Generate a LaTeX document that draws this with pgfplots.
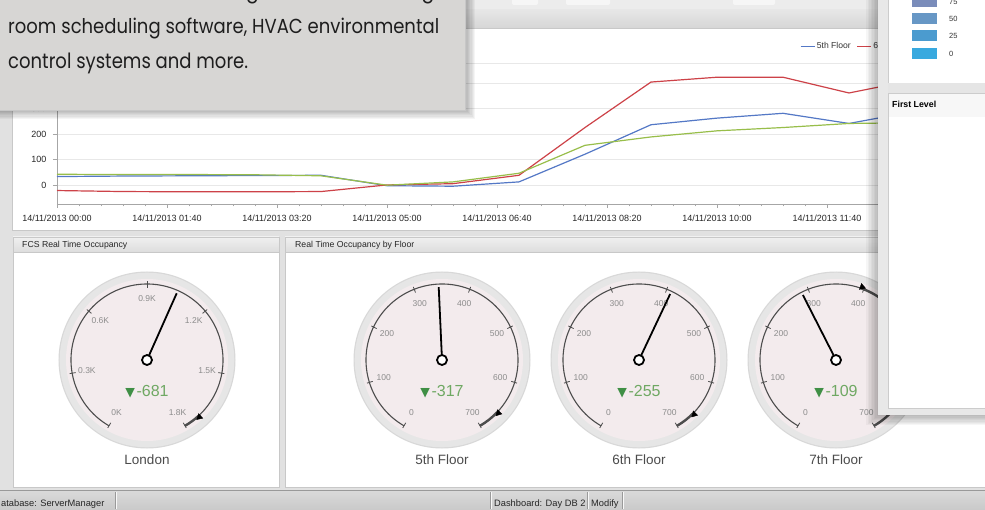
\documentclass[border=0pt]{standalone}
\usepackage{pgfplots}
\usepackage{pgfplotstable}
\pgfplotsset{compat=1.18}
\usepgfplotslibrary{polar}
\usepackage{fontspec}
\setmainfont{Liberation Sans}
\newfontfamily\promofont{Poppins}
\newfontfamily\symfont{DejaVu Sans}

\definecolor{winbg}{HTML}{E1E1E1}
\definecolor{toolbar}{HTML}{ECECEC}
\definecolor{band}{HTML}{D6D6D6}
\definecolor{panelline}{HTML}{C8C8C8}
\definecolor{hdrtop}{HTML}{F0F0F0}
\definecolor{hdrbot}{HTML}{DDDDDD}
\definecolor{ser5}{RGB}{84,120,198}
\definecolor{ser6}{RGB}{205,66,72}
\definecolor{ser7}{RGB}{152,190,74}
\definecolor{gface}{HTML}{F3EBED}
\definecolor{gring}{HTML}{E6E6E6}
\definecolor{gringedge}{HTML}{D8D8D8}
\definecolor{garc}{HTML}{4D4D4D}
\definecolor{glabel}{HTML}{8C8C8C}
\definecolor{deltatext}{HTML}{6FA863}
\definecolor{deltatri}{HTML}{3F8F45}
\definecolor{gname}{HTML}{4B4B4B}
\definecolor{promobg}{HTML}{D7D6D4}
\definecolor{promotext}{HTML}{1E1E1E}
\definecolor{sw75}{HTML}{7A8CBA}
\definecolor{sw50}{HTML}{6797C5}
\definecolor{sw25}{HTML}{4B9BCF}
\definecolor{sw0}{HTML}{38A9DF}
\definecolor{sbtop}{HTML}{DADADA}
\definecolor{sbbot}{HTML}{C9C9C9}
\definecolor{wingray}{HTML}{E8E8E8}

% hourly occupancy per floor (t in minutes after 00:00)
\pgfplotstableread{
t    f5   f6   f7
0    33  -22   42
60   35  -26   41
120  36  -27   41
180  37  -27   40
240  38  -26   36
300  -3    0   -1
360  -5    5   12
420  12   38   46
480  121 226  156
540  237 405  189
600  263 424  213
660  282 424  226
720  242 362  242
780  290 414  245
}\occupancy

\newcommand{\glab}[2]{%
  \draw[garc,line width=0.8pt] (axis cs:0,0) ++(#1:72.5pt) -- ++(#1:6pt);
  \path (axis cs:0,0) ++(#1:61pt) node[font=\fontsize{8.5}{9}\selectfont, text=glabel, inner sep=0pt]{#2};}
\newcommand{\floorlabels}{\glab{240}{0}\glab{197.14}{100}\glab{154.29}{200}\glab{111.43}{300}\glab{68.57}{400}\glab{25.71}{500}\glab{-17.14}{600}\glab{-60}{700}}

% #1 cx, #2 cy (px from top), #3 max, #4 value, #5 target, #6 delta, #7 name, #8 labels
\newcommand{\gauge}[8]{%
 \pgfmathsetmacro\tang{240-#5/#3*300}%
 \pgfmathsetmacro\trot{\tang-180}%
 \begin{polaraxis}[at={(#1pt,-#2pt)}, anchor=center, scale only axis,
   width=176pt, height=176pt, xmin=0, xmax=360, ymin=0, ymax=88,
   hide axis, clip=false, x filter/.expression={240-x/#3*300}]
  \fill[gringedge] (axis cs:0,0) circle[radius=88.5pt];
  \fill[gring] (axis cs:0,0) circle[radius=87.3pt];
  \fill[gface] (axis cs:0,0) circle[radius=81pt];
  \draw[garc,line width=1.1pt] (axis cs:0,0) ++(240:76pt) arc[start angle=240,end angle=-60,radius=76pt];
  \draw[garc,line width=2.4pt] (axis cs:0,0) ++(\tang:76pt) arc[start angle=\tang,end angle=-60,radius=76pt];
  #8
  \path (axis cs:0,0) ++(0pt,-32pt) node[font=\fontsize{16}{18}\selectfont, text=deltatext]{{\symfont\fontsize{12.5}{14}\selectfont\textcolor{deltatri}{▼}}\hspace{1.5pt}#6};
  \path (axis cs:0,0) ++(0pt,-100pt) node[font=\fontsize{13.5}{15}\selectfont, text=gname]{#7};
  \addplot[black, line width=1.8pt] coordinates {(#4,0) (#4,73)};
  \addplot[only marks, mark=triangle*, mark size=3.6pt, mark options={fill=black, draw=black, rotate=\trot}] coordinates {(#5,77.5)};
  \filldraw[fill=white, draw=black, line width=1.8pt] (axis cs:0,0) circle[radius=5pt];
 \end{polaraxis}%
}

\begin{document}
\begin{tikzpicture}
\useasboundingbox (0pt,0pt) rectangle (985pt,-510pt);
\begin{scope}[x=1pt,y=-1pt]
 \fill[winbg] (0,0) rectangle (985,510);
 \fill[toolbar] (0,0) rectangle (985,9);
 \fill[white!50!toolbar, rounded corners=2pt] (512,-3) rectangle (538,5);
 \fill[white!50!toolbar, rounded corners=2pt] (566,-3) rectangle (610,5);
 \fill[white!50!toolbar, rounded corners=2pt] (733,-3) rectangle (775,5);
 \draw[black!28] (0,9.5) -- (985,9.5);
 \shade[top color=band!60!white, bottom color=band] (0,10) rectangle (985,28);
 \fill[white] (12,28) rectangle (985,230);
 \draw[panelline] (12,28) rectangle (990,230);
 % gauge panels
 \fill[white] (13,237) rectangle (279,487);
 \shade[top color=hdrtop, bottom color=hdrbot] (13,237) rectangle (279,252);
 \draw[panelline] (13,237) rectangle (279,487);
 \draw[panelline] (13,252) -- (279,252);
 \node[anchor=base west, inner sep=0pt, font=\fontsize{8.7}{10}\selectfont, text=black!85] at (22,247.5) {FCS Real Time Occupancy};
 \fill[white] (285,237) rectangle (990,487);
 \shade[top color=hdrtop, bottom color=hdrbot] (285,237) rectangle (990,252);
 \draw[panelline] (285,237) rectangle (990,487);
 \draw[panelline] (285,252) -- (990,252);
 \node[anchor=base west, inner sep=0pt, font=\fontsize{8.7}{10}\selectfont, text=black!85] at (295,247.5) {Real Time Occupancy by Floor};
 % status bar
 \shade[top color=sbtop, bottom color=sbbot] (0,490) rectangle (985,510);
 \draw[black!40] (0,490.5) -- (985,490.5);
 \node[anchor=base west, inner sep=0pt, font=\fontsize{9.3}{10}\selectfont, text=black!85] at (1,506) {atabase: ServerManager};
 \node[anchor=base west, inner sep=0pt, font=\fontsize{9.3}{10}\selectfont, text=black!85] at (494,506) {Dashboard: Day DB 2};
 \node[anchor=base west, inner sep=0pt, font=\fontsize{9.3}{10}\selectfont, text=black!85] at (591,506) {Modify};
 \foreach \sx in {115,490,587,622}{
   \draw[black!40] (\sx,492) -- (\sx,509);
   \draw[white!80!sbtop] (\sx+1,492) -- (\sx+1,509);}
\end{scope}

% ---------------- line chart ----------------
\begin{axis}[at={(57pt,-204pt)}, anchor=south west, scale only axis,
  width=880pt, height=141pt,
  xmin=0, xmax=800, ymin=-75, ymax=480,
  axis lines*=left,
  axis line style={draw=black!35, line width=0.6pt},
  xtick={0,100,200,300,400,500,600,700},
  xticklabels={14/11/2013 00:00,14/11/2013 01:40,14/11/2013 03:20,14/11/2013 05:00,14/11/2013 06:40,14/11/2013 08:20,14/11/2013 10:00,14/11/2013 11:40},
  minor x tick num=4,
  ytick={0,100,200,300,400},
  ymajorgrids, major grid style={draw=black!9, line width=0.6pt},
  tick align=outside, major tick length=4pt, minor tick length=2.5pt,
  tick style={draw=black!35, line width=0.5pt},
  ticklabel style={font=\fontsize{9}{10}\selectfont, text=black!85},
  /pgf/number format/assume math mode=true,
  xticklabel style={yshift=-3pt},
  yticklabel style={xshift=-3pt},
  legend style={at={(axis description cs:0.841,1.12)}, anchor=west, draw=none, fill=none,
    font=\fontsize{8.6}{10}\selectfont, text=black!80, legend columns=-1,
    /tikz/every even column/.append style={column sep=4pt}},
  legend image code/.code={\draw[#1, line width=0.6pt] (0pt,0pt) -- (14pt,0pt);},
]
\draw[black!9, line width=0.6pt] (rel axis cs:0,1) -- (rel axis cs:1,1);
\addplot[ser5, line width=1.2pt] table[x=t,y=f5]{\occupancy};
\addplot[ser6, line width=1.2pt] table[x=t,y=f6]{\occupancy};
\addplot[ser7, line width=1.2pt] table[x=t,y=f7]{\occupancy};
\legend{5th Floor, 6th Floor, 7th Floor}
\end{axis}

% ---------------- gauges ----------------
\gauge{147}{360}{1800}{1044}{1725}{-681}{London}{\glab{240}{0K}\glab{190}{0.3K}\glab{140}{0.6K}\glab{90}{0.9K}\glab{40}{1.2K}\glab{-10}{1.5K}\glab{-60}{1.8K}}
\gauge{442}{360}{700}{344}{661}{-317}{5th Floor}{\floorlabels}
\gauge{639}{360}{700}{409}{664}{-255}{6th Floor}{\floorlabels}
\gauge{836}{360}{700}{287}{396}{-109}{7th Floor}{\floorlabels}

% ---------------- floating window and promo box ----------------
\begin{scope}[x=1pt,y=-1pt]
 \foreach \i in {1,...,8}
   \fill[black, opacity=0.035] (878-\i*1.5,-5) rectangle (990,415+\i*1.3);
 \fill[wingray] (878,-5) rectangle (990,415);
 \fill[white] (888,-5) rectangle (990,83);
 \fill[black!10] (888,83) rectangle (990,93);
 \fill[black!3] (888,93) rectangle (990,117);
 \draw[black!12] (888,117) -- (990,117);
 \fill[white] (888,117.5) rectangle (990,408);
 \draw[black!20] (888,93) rectangle (995,408);
 \draw[black!20] (888,-5) -- (888,83);
 \node[anchor=base west, inner sep=0pt, font=\bfseries\fontsize{8.8}{10}\selectfont] at (892,107.5) {First Level};
 \fill[sw75] (912,-4) rectangle (937,7);
 \fill[sw50] (912,13) rectangle (937,24);
 \fill[sw25] (912,30) rectangle (937,41);
 \fill[sw0] (912,48) rectangle (937,59);
 \node[anchor=west, inner sep=0pt, font=\fontsize{7.5}{8}\selectfont, text=black!80] at (949,1.5) {75};
 \node[anchor=west, inner sep=0pt, font=\fontsize{7.5}{8}\selectfont, text=black!80] at (949,18.5) {50};
 \node[anchor=west, inner sep=0pt, font=\fontsize{7.5}{8}\selectfont, text=black!80] at (949,35.5) {25};
 \node[anchor=west, inner sep=0pt, font=\fontsize{7.5}{8}\selectfont, text=black!80] at (949,53.5) {0};
 % promo box
 \foreach \i in {1,...,8}
   \fill[black, opacity=0.04] (-5,-5) rectangle (465+\i*1.3,110+\i*1.1);
 \fill[promobg] (-5,-5) rectangle (465,110);
 \draw[black!22] (-5,110) -- (465,110) -- (465,-5);
 \node[anchor=base west, inner sep=0pt, text=promotext] at (8,-1.7) {\resizebox{426pt}{15.5pt}{\promofont Web API available for integration with existing}};
 \node[anchor=base west, inner sep=0pt, text=promotext] at (8,33.3) {\resizebox{431pt}{15.5pt}{\promofont room scheduling software, HVAC environmental}};
 \node[anchor=base west, inner sep=0pt, text=promotext] at (8,68.3) {\resizebox{240pt}{15.5pt}{\promofont control systems and more.}};
\end{scope}
\end{tikzpicture}
\end{document}
